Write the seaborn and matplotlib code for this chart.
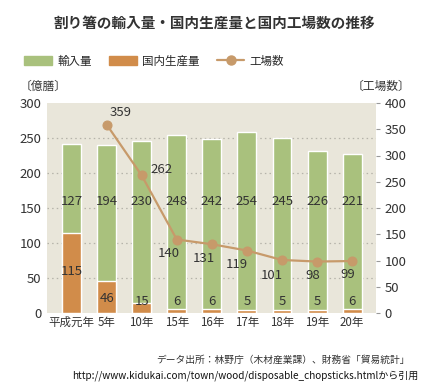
import numpy as np
import seaborn as sns
import matplotlib.pyplot as plt
from matplotlib.patches import Patch
from matplotlib.lines import Line2D

# data
years = ['平成元年', '5年', '10年', '15年', '16年', '17年', '18年', '19年', '20年']
imports = [127, 194, 230, 248, 242, 254, 245, 226, 221]
domestic = [115, 46, 15, 6, 6, 5, 5, 5, 6]
factories = [None, 359, 262, 140, 131, 119, 101, 98, 99]

green = '#A9C17D'
orange = '#D18C4A'
line_c = '#C79A6A'

sns.set_style('white')
plt.rcParams['font.family'] = ['Noto Sans CJK JP', 'DejaVu Sans']

fig = plt.figure(figsize=(4.29, 3.90), dpi=100)
ax = fig.add_axes([47 / 429, 1 - 313 / 390, 329 / 429, 210 / 390])
ax.set_facecolor('#E9E6DA')

total = [a + b for a, b in zip(imports, domestic)]
sns.barplot(x=years, y=total, color=green, width=0.54, ax=ax, saturation=1, zorder=2)
sns.barplot(x=years, y=domestic, color=orange, width=0.54, ax=ax, saturation=1, zorder=3)

ax.set_xlim(-0.70, 8.68)
ax.set_ylim(0, 300)
ax.set_yticks(range(0, 301, 50))
for v in range(50, 300, 50):
    ax.axhline(v, color='#B5B3AA', lw=0.9, ls=(0, (1.2, 2.5)), zorder=1)
for s in ax.spines.values():
    s.set_visible(False)
ax.tick_params(axis='y', length=0, labelsize=9.5, colors='#333333', pad=4)
ax.tick_params(axis='x', length=0, labelsize=8.3, colors='#333333', pad=2)

for i, v in enumerate(imports):
    ax.text(i, 159, str(v), ha='center', va='center', fontsize=9.5, color='#333333', zorder=5)
dom_y = [59, 21, 16, 16, 16, 16, 16, 16, 16]
for i, v in enumerate(domestic):
    ax.text(i, dom_y[i], str(v), ha='center', va='center', fontsize=9.5, color='#333333', zorder=5)

ax2 = ax.twinx()
idx = [i for i, f in enumerate(factories) if f is not None]
vals = [factories[i] for i in idx]
sns.lineplot(x=idx, y=vals, ax=ax2, color=line_c, lw=1.6, marker='o', markersize=6.5,
             markeredgecolor=line_c, zorder=6)
ax2.set_ylim(0, 400)
ax2.set_yticks(range(0, 401, 50))
for s in ax2.spines.values():
    s.set_visible(False)
ax2.tick_params(axis='y', length=3, width=0.8, color='#999999', labelsize=9.5, colors='#333333', pad=3)
ax2.tick_params(axis='y', color='#999999')

offsets = [(10, 9), (14, 4), (-6, -10), (-6, -10), (-7, -10), (-7, -11), (-3, -10), (-3, -10)]
for (i, v), (dx, dy) in zip(zip(idx, vals), offsets):
    ax2.annotate(str(v), (i, v), xytext=(dx, dy), textcoords='offset points',
                 ha='center', va='center', fontsize=9.5, color='#333333', zorder=7)

fig.text(0.5, 1 - 23 / 390, '割り箸の輸入量・国内生産量と国内工場数の推移', ha='center', va='center',
         fontsize=10.5, fontweight='bold', color='#333333')

handles = [Patch(color=green, label='輸入量'),
           Patch(color=orange, label='国内生産量'),
           Line2D([], [], color=line_c, lw=1.6, marker='o', markersize=6.5, label='工場数')]
fig.legend(handles=handles, loc='center left', bbox_to_anchor=(14 / 429, 1 - 61 / 390), ncol=3,
           frameon=False, fontsize=8.3, handlelength=2.4, handleheight=0.9,
           columnspacing=1.5, handletextpad=0.45)

fig.text(20 / 429, 1 - 86 / 390, '〔億膳〕', ha='left', va='center', fontsize=8.5, color='#333333')
fig.text(410 / 429, 1 - 86 / 390, '〔工場数〕', ha='right', va='center', fontsize=8.5, color='#333333')

fig.text(410 / 429, 1 - 360 / 390, 'データ出所：林野庁（木材産業課）、財務省「貿易統計」',
         ha='right', va='center', fontsize=7, color='#333333')
fig.text(418 / 429, 1 - 376 / 390, 'http://www.kidukai.com/town/wood/disposable_chopsticks.htmlから引用',
         ha='right', va='center', fontsize=7.2, color='#111111')

fig.savefig('out.png', dpi=100)
